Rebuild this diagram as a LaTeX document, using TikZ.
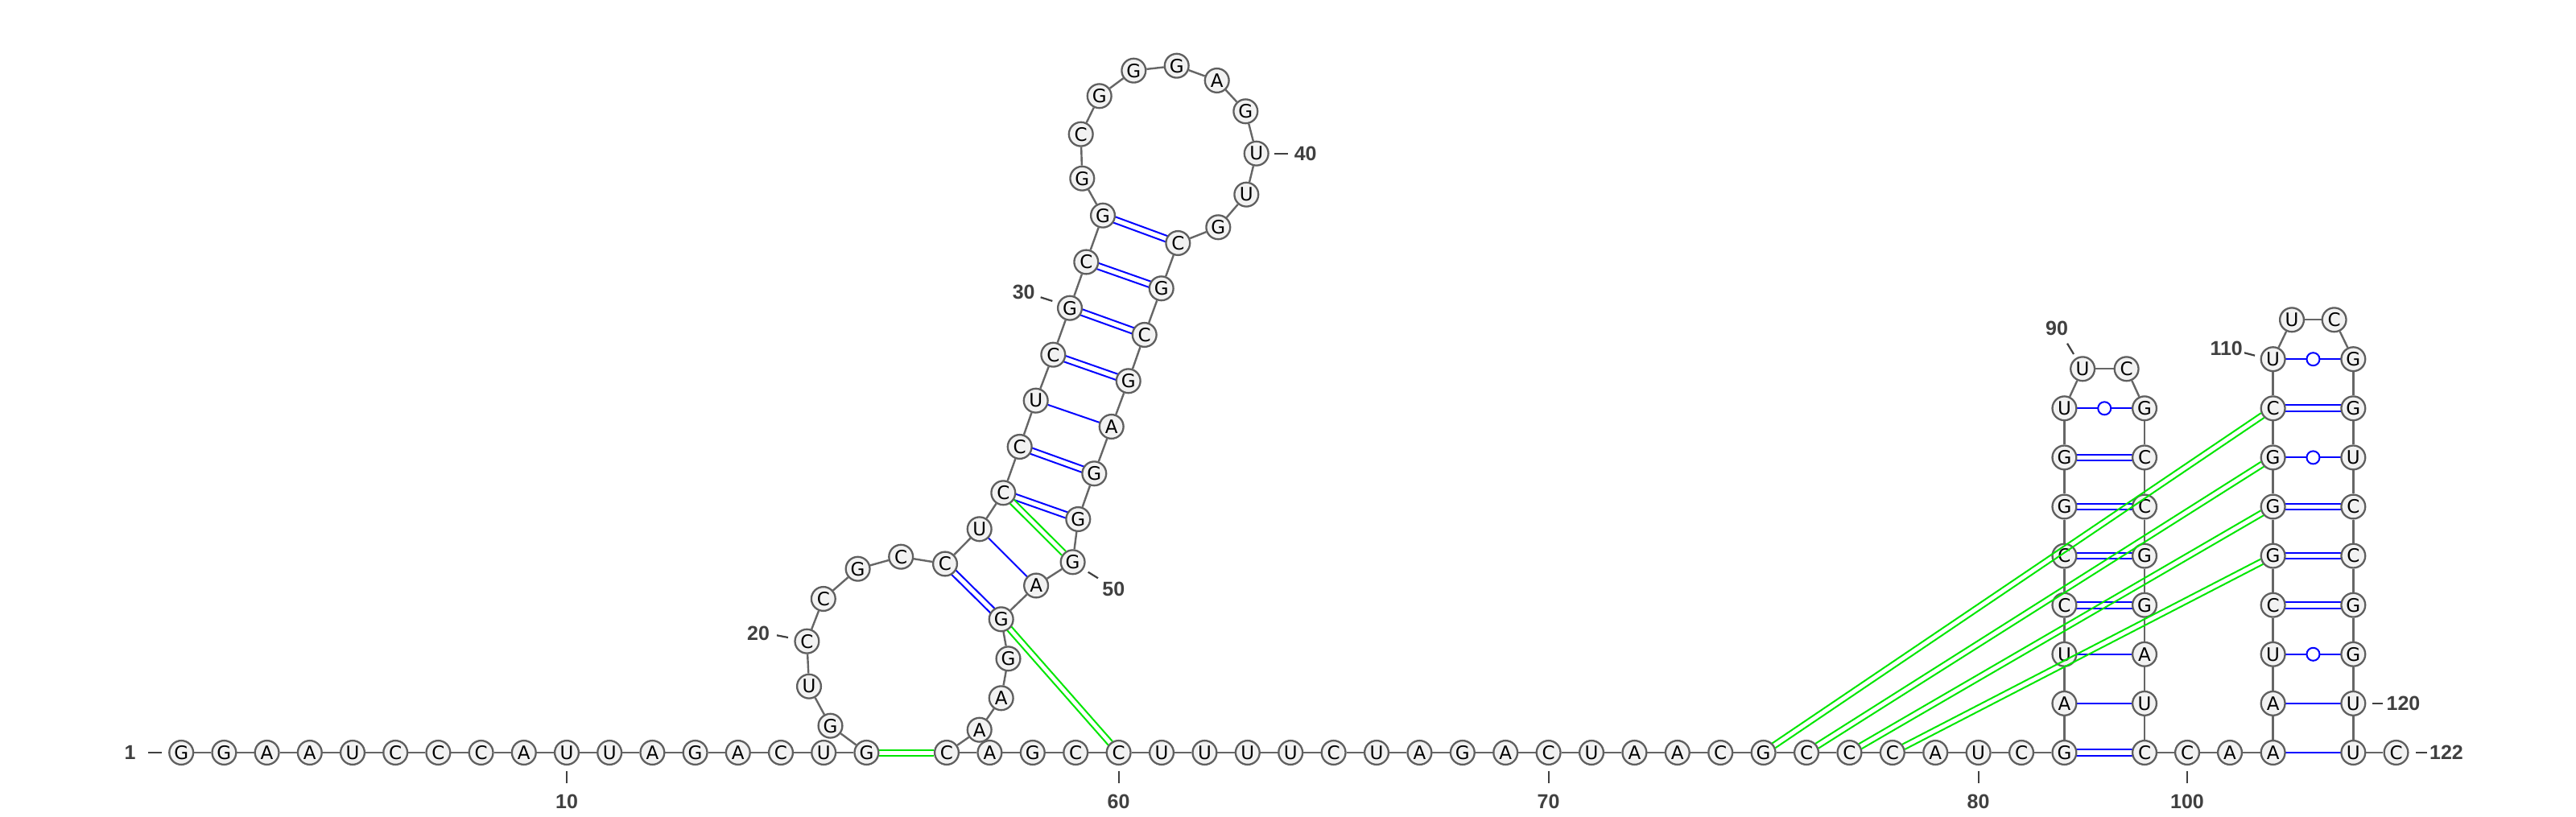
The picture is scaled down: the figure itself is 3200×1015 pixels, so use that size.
\documentclass[tikz,border=0pt]{standalone}
\usepackage{fontspec}
\setmainfont{DejaVu Sans}
\newfontfamily\numfont{Liberation Sans}
\usetikzlibrary{calc}
\pgfdeclarelayer{paper}\pgfdeclarelayer{bg}\pgfdeclarelayer{fg}
\pgfsetlayers{paper,bg,main,fg}
\definecolor{ntfill}{HTML}{F2F2F2}
\definecolor{ntline}{HTML}{5F5F5F}
\definecolor{bbone}{HTML}{666666}
\definecolor{lblcol}{HTML}{404040}
\definecolor{pkgreen}{RGB}{0,230,0}
\definecolor{pairblue}{RGB}{0,0,255}
\begin{document}
\begin{tikzpicture}[x=0.5pt,y=-0.5pt,
  nt/.style={circle,draw=ntline,line width=1.15pt,fill=ntfill,minimum size=14.9pt,inner sep=0pt,font=\fontsize{11.5}{12}\selectfont},
  bb/.style={draw=bbone,line width=1.2pt},
  bp/.style={draw=pairblue,line width=1pt},
  pk/.style={draw=pkgreen,line width=1pt,shorten <=7.8pt,shorten >=7.8pt},
  lbl/.style={font=\numfont\bfseries\fontsize{12.5}{13}\selectfont,text=lblcol,inner sep=0pt},
  tickln/.style={draw=lblcol,line width=1.1pt}]
\begin{pgfonlayer}{paper}
\fill[white] (0,0) rectangle (3200,1015);
\end{pgfonlayer}
\useasboundingbox (0,0) rectangle (3200,1015);
% nucleotides
\foreach \i/\x/\y/\b in {
 1/225.2/935/G, 2/278.4/935/G, 3/331.6/935/A, 4/384.8/935/A, 5/438.0/935/U,
 6/491.2/935/C, 7/544.4/935/C, 8/597.6/935/C, 9/650.8/935/A, 10/704.0/935/U,
 11/757.2/935/U, 12/810.4/935/A, 13/863.6/935/G, 14/916.8/935/A, 15/970.0/935/C,
 16/1023.2/935/U, 17/1076.4/935/G,
 18/1031.5/901.7/G, 19/1005/852.7/U, 20/1002.4/796.7/C, 21/1022.8/744/C,
 22/1065.6/706.7/G, 23/1119.2/691.7/C, 24/1174/700.5/C, 25/1216.7/657.3/U,
 26/1246.3/612.3/C, 27/1266.7/555/C, 28/1286.7/497.7/U, 29/1308.3/440.7/C,
 30/1329/382.7/G, 31/1349.3/325.5/C, 32/1370/267.7/G, 33/1344.3/221.7/G,
 34/1342.7/166.7/C, 35/1365.7/119.3/G, 36/1408.3/87.7/G, 37/1461.7/81.7/G,
 38/1511.7/100/A, 39/1547.3/138.3/G, 40/1560.7/190.7/U, 41/1548.3/241.7/U,
 42/1513.3/282.3/G, 43/1463.3/302/C, 44/1442.7/358.3/G, 45/1421.7/416/C,
 46/1401.7/473.3/G, 47/1380.7/530/A, 48/1359.3/588.3/G, 49/1339.3/645/G,
 50/1332.6/698.3/G, 51/1287.1/727.5/A, 52/1243.7/769.3/G, 53/1252.5/818.3/G,
 54/1243.7/867.3/A, 55/1216.7/906.7/A,
 56/1176/935/C, 57/1229.4/935/A, 58/1282.8/935/G, 59/1336.2/935/C, 60/1389.6/935/C,
 61/1443/935/U, 62/1496.4/935/U, 63/1549.8/935/U, 64/1603.2/935/U, 65/1656.6/935/C,
 66/1710/935/U, 67/1763.4/935/A, 68/1816.8/935/G, 69/1870.2/935/A, 70/1923.6/935/C,
 71/1977/935/U, 72/2030.4/935/A, 73/2083.8/935/A, 74/2137.2/935/C, 75/2190.6/935/G,
 76/2244/935/C, 77/2297.4/935/C, 78/2350.8/935/C, 79/2404.2/935/A, 80/2457.6/935/U,
 81/2511/935/C, 82/2564.4/935/G,
 83/2564.4/873.9/A, 84/2564.4/812.8/U, 85/2564.4/751.7/C, 86/2564.4/690.6/C,
 87/2564.4/629.5/G, 88/2564.4/568.4/G, 89/2564.4/507.3/U,
 90/2587.1/458.3/U, 91/2641.6/458.3/C,
 92/2664/507.3/G, 93/2664/568.4/C, 94/2664/629.5/C, 95/2664/690.6/G,
 96/2664/751.7/G, 97/2664/812.8/A, 98/2664/873.9/U, 99/2664/935/C,
 100/2717/935/C, 101/2770/935/A, 102/2823.6/935/A,
 103/2823.6/873.9/A, 104/2823.6/812.8/U, 105/2823.6/751.7/C, 106/2823.6/690.6/G,
 107/2823.6/629.5/G, 108/2823.6/568.4/G, 109/2823.6/507.3/C, 110/2823.6/446.2/U,
 111/2847/397.3/U, 112/2899.6/397.3/C,
 113/2923.3/446.2/G, 114/2923.3/507.3/G, 115/2923.3/568.4/U, 116/2923.3/629.5/C,
 117/2923.3/690.6/C, 118/2923.3/751.7/G, 119/2923.3/812.8/G, 120/2923.3/873.9/U,
 121/2923.3/935/U, 122/2976.5/935/C}
 {\node[nt] (n\i) at (\x,\y) {\b};}
\begin{pgfonlayer}{bg}
 % backbone
 \foreach \i in {1,...,121}{\pgfmathtruncatemacro\j{\i+1}\draw[bb] (n\i) -- (n\j);}
 % canonical GC pairs
 \foreach \a/\b in {24/52,26/49,27/48,29/46,30/45,31/44,32/43,82/99,85/96,86/95,87/94,88/93,105/118,106/117,107/116,109/114}{
  \draw[bp] ($(n\a)!1.9pt!90:(n\b)$) -- ($(n\b)!1.9pt!-90:(n\a)$);
  \draw[bp] ($(n\a)!1.9pt!-90:(n\b)$) -- ($(n\b)!1.9pt!90:(n\a)$);}
 % AU pairs
 \foreach \a/\b in {25/51,28/47,83/98,84/97,102/121,103/120}{\draw[bp] (n\a.center) -- (n\b.center);}
 % GU wobble pairs
 \foreach \a/\b in {89/92,104/119,108/115,110/113}{
  \draw[bp] (n\a.center) -- (n\b.center);
  \draw[bp,fill=white] ($(n\a)!0.5!(n\b)$) circle[radius=4pt];}
\end{pgfonlayer}
\begin{pgfonlayer}{fg}
 \foreach \a/\b in {17/56,26/50,52/60,75/109,76/108,77/107,78/106}{
  \draw[pk] ($(n\a)!1.75pt!90:(n\b)$) -- ($(n\b)!1.75pt!-90:(n\a)$);
  \draw[pk] ($(n\a)!1.75pt!-90:(n\b)$) -- ($(n\b)!1.75pt!90:(n\a)$);}
\end{pgfonlayer}
% numbering
\node[lbl] (l1) at (161.5,935) {1};
\draw[tickln] (184,935) -- (201,935);
\node[lbl] (l10) at (704,996) {10};
\draw[tickln] (704,958) -- (704,973);
\node[lbl] (l20) at (942,787) {20};
\draw[tickln] (965,789.3) -- (979,792);
\node[lbl] (l30) at (1271.7,362.7) {30};
\draw[tickln] (1292.7,369.3) -- (1307.3,374);
\node[lbl] (l40) at (1621.7,190.7) {40};
\draw[tickln] (1583,190.7) -- (1600,190.7);
\node[lbl] (l50) at (1383.3,731.7) {50};
\draw[tickln] (1351.7,710.7) -- (1364,718.3);
\node[lbl] (l60) at (1389.6,996) {60};
\draw[tickln] (1389.6,958) -- (1389.6,973);
\node[lbl] (l70) at (1923.6,996) {70};
\draw[tickln] (1923.6,958) -- (1923.6,973);
\node[lbl] (l80) at (2457.6,996) {80};
\draw[tickln] (2457.6,958) -- (2457.6,973);
\node[lbl] (l90) at (2555,408.3) {90};
\draw[tickln] (2568,426.7) -- (2576,440);
\node[lbl] (l100) at (2717,996) {100};
\draw[tickln] (2717,958) -- (2717,973);
\node[lbl] (l110) at (2765.7,432.7) {110};
\draw[tickln] (2788,438.3) -- (2801,441.7);
\node[lbl] (l120) at (2985.5,873.9) {120};
\draw[tickln] (2947,873.9) -- (2960,873.9);
\node[lbl] (l122) at (3039,935) {122};
\draw[tickln] (3001,935) -- (3015,935);
\end{tikzpicture}
\end{document}
